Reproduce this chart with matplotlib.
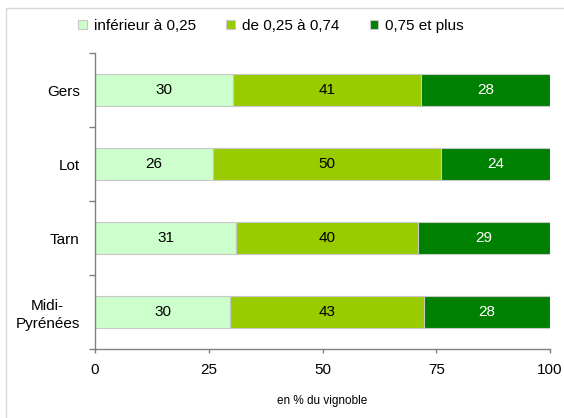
import numpy as np
import matplotlib
matplotlib.use("Agg")
from matplotlib import pyplot as plt
from matplotlib.patches import Rectangle

plt.rcParams['font.family'] = ['Liberation Sans', 'DejaVu Sans']

# share of the vineyard by class, in %
regions = ["Gers", "Lot", "Tarn", "Midi-\nPyrénées"]
series_names = ["inférieur à 0,25", "de 0,25 à 0,74", "0,75 et plus"]
low = [30, 26, 31, 30]
mid = [41, 50, 40, 43]
high = [28, 24, 29, 28]
colors = ["#ccffcc", "#99cc00", "#008000"]
text_colors = ["black", "black", "white"]
x_ticks = [0, 25, 50, 75, 100]

values = np.array([low, mid, high], dtype=float)
shares = values / values.sum(axis=0) * 100  # 100% stacked

fig = plt.figure(figsize=(5.64, 4.18), dpi=100)
ax = fig.add_axes([95 / 564, 1 - 349 / 418, 455 / 564, 296 / 418])

# light frame around the chart
fig.patches.append(Rectangle((6 / 564, -0.1), 1.2, 1 - 8 / 418 + 0.1, transform=fig.transFigure,
                             fill=False, edgecolor="#d9d9d9", linewidth=1))

y = np.arange(len(regions))
left = np.zeros(len(regions))
for i, name in enumerate(series_names):
    bars = ax.barh(y, shares[i], left=left, height=0.43, color=colors[i],
                   edgecolor="#c8c8c8", linewidth=0.8, label=name)
    for j, b in enumerate(bars):
        ax.text(left[j] + shares[i][j] / 2, y[j], f"{int(values[i][j])}", ha="center", va="center",
                fontsize=11, color=text_colors[i])
    left += shares[i]

ax.set_xlim(0, 100)
ax.set_ylim(len(regions) - 0.5, -0.5)
ax.set_xticks(x_ticks)
ax.set_xticklabels([str(t) for t in x_ticks], fontsize=11)
ax.set_yticks(y)
ax.set_yticklabels(regions, fontsize=11, multialignment="center", linespacing=1.3)
ax.set_yticks(np.arange(len(regions) + 1) - 0.5, minor=True)
ax.tick_params(axis="y", which="major", length=0, pad=11)
ax.tick_params(axis="y", which="minor", length=4.5, color="#808080", width=1)
ax.tick_params(axis="x", length=3, color="#808080", width=1, pad=7)
for s in ["top", "right"]:
    ax.spines[s].set_visible(False)
for s in ["left", "bottom"]:
    ax.spines[s].set_color("#808080")
    ax.spines[s].set_linewidth(1)

ax.set_xlabel("en % du vignoble", fontsize=8.5, labelpad=13)

ax.legend(loc="center", bbox_to_anchor=(271 / 564, 1 - 26 / 418), bbox_transform=fig.transFigure,
          ncol=3, frameon=False, fontsize=11, handlelength=0.55, handleheight=0.55,
          handletextpad=0.45, columnspacing=2.0, borderaxespad=0)

fig.savefig("out.png", dpi=100)
